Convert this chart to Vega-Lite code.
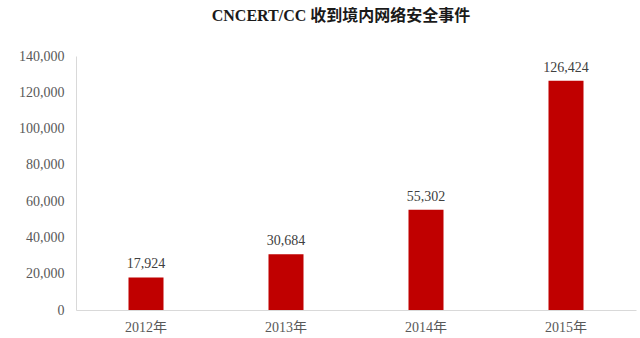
{
  "$schema": "https://vega.github.io/schema/vega-lite/v6.json",
  "autosize": {"type": "none"},
  "padding": {"left": 76, "top": 56, "right": 4, "bottom": 28},
  "width": 560,
  "height": 254,
  "background": "white",
  "title": {
    "text": "CNCERT/CC 收到境内网络安全事件",
    "font": "Liberation Serif, Noto Sans CJK SC",
    "fontSize": 16,
    "fontWeight": "bold",
    "color": "#1a1a1a",
    "anchor": "middle",
    "dx": -15,
    "offset": 25
  },
  "data": {
    "values": [
      {"year": "2012年", "events": 17924},
      {"year": "2013年", "events": 30684},
      {"year": "2014年", "events": 55302},
      {"year": "2015年", "events": 126424}
    ]
  },
  "config": {
    "view": {"stroke": null},
    "axis": {
      "labelFont": "Liberation Serif, Noto Sans CJK SC",
      "labelFontSize": 14,
      "labelColor": "#595959",
      "domainColor": "#d9d9d9",
      "grid": false,
      "ticks": false,
      "title": null
    }
  },
  "encoding": {
    "x": {
      "field": "year",
      "type": "nominal",
      "sort": null,
      "scale": {"paddingInner": 0.75, "paddingOuter": 0.375},
      "axis": {"labelAngle": 0, "labelPadding": 10}
    },
    "y": {
      "field": "events",
      "type": "quantitative",
      "scale": {"domain": [0, 140000]},
      "axis": {"values": [0, 20000, 40000, 60000, 80000, 100000, 120000, 140000], "format": ",.0f", "labelPadding": 12}
    }
  },
  "layer": [
    {"mark": {"type": "bar", "color": "#C00000"}},
    {
      "mark": {
        "type": "text",
        "dy": -6,
        "baseline": "bottom",
        "font": "Liberation Serif",
        "fontSize": 14,
        "color": "#404040"
      },
      "encoding": {"text": {"field": "events", "type": "quantitative", "format": ","}}
    }
  ]
}
